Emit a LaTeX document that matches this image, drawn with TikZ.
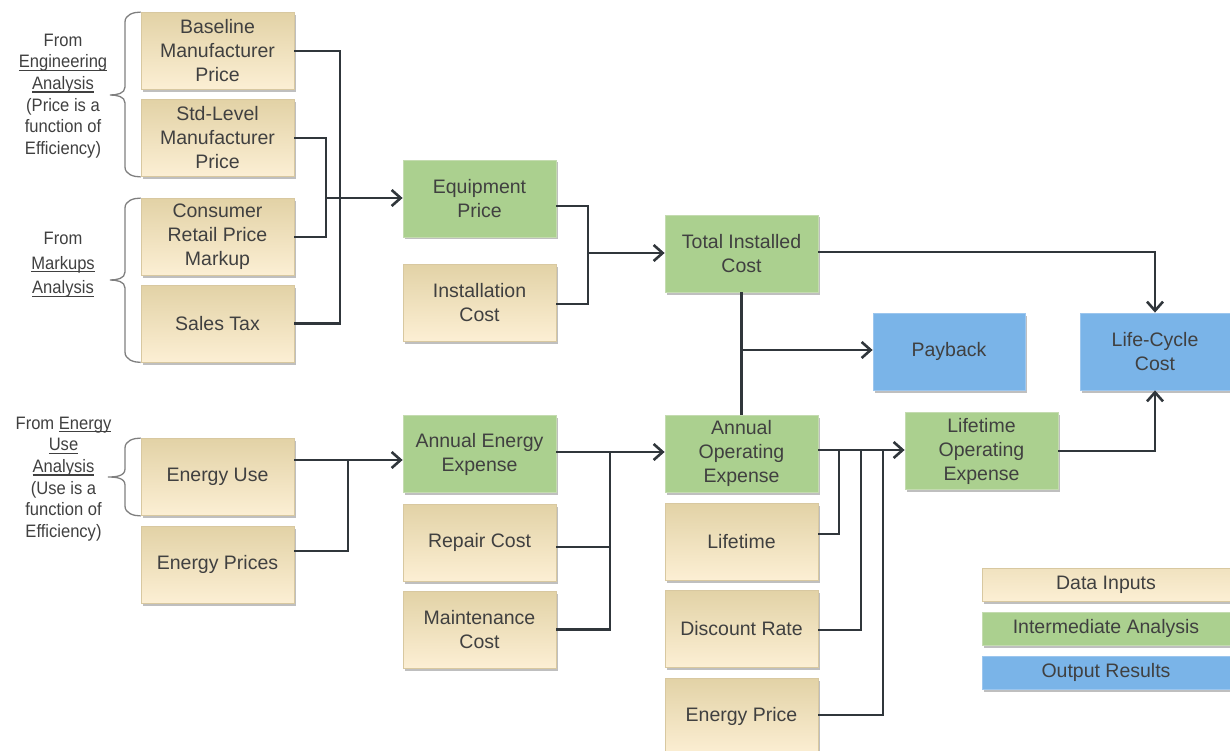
\documentclass[tikz,border=0pt]{standalone}
\usepackage{fontspec}
\setmainfont{Liberation Sans}
\newfontfamily\narrowlbl[FakeStretch=0.92]{Liberation Sans}
\usetikzlibrary{arrows.meta,shadows,calc}
\definecolor{txt}{HTML}{404040}
\definecolor{lnc}{HTML}{30363B}
\definecolor{tantop}{HTML}{E2D2A6}
\definecolor{tanbot}{HTML}{FCEFD4}
\definecolor{tanedge}{HTML}{D8C8A0}
\definecolor{grn}{HTML}{ABD08F}
\definecolor{grnedge}{HTML}{C4DBB0}
\definecolor{blu}{HTML}{7AB4E8}
\definecolor{bluedge}{HTML}{9CC6EE}
\definecolor{brcol}{HTML}{7F7F7F}
\def\myul#1{\setbox0\hbox{#1}\rlap{\rule[-3pt]{\wd0}{1.1pt}}\box0}
\begin{document}
\begin{tikzpicture}[x=1pt,y=-1pt,
 base/.style={rectangle, minimum width=153pt, minimum height=77pt, inner sep=2pt, align=center, text=txt,
   font=\fontsize{19.5}{24}\selectfont,
   drop shadow={shadow xshift=2pt,shadow yshift=-2.5pt,opacity=0.25,fill=black}},
 datain/.style={base, top color=tantop, bottom color=tanbot, draw=tanedge, line width=0.8pt},
 inter/.style={base, fill=grn, draw=grnedge, line width=0.8pt},
 outres/.style={base, fill=blu, draw=bluedge, line width=0.8pt},
 ln/.style={draw=lnc, line width=2.6pt},
 arr/.style={ln, -{Straight Barb[length=9pt,width=16pt,line width=2.6pt]}},
 lbl/.style={align=center, text=txt, font=\narrowlbl\fontsize{18}{21.6}\selectfont},
 brc/.style={draw=brcol, line width=1.3pt},
 leg/.style={minimum width=248pt, minimum height=33pt}]
\useasboundingbox (0,0) rectangle (1230,751);

% data inputs, left column
\node[datain] (bmp) at (217.5,51) {Baseline\\Manufacturer\\Price};
\node[datain] (slm) at (217.5,138) {Std-Level\\Manufacturer\\Price};
\node[datain] (crpm) at (217.5,237) {Consumer\\Retail Price\\Markup};
\node[datain] (stax) at (217.5,323.5) {Sales Tax};
\node[datain] (eu) at (217.5,477) {Energy Use};
\node[datain] (ep) at (217.5,564.5) {Energy Prices};

% middle column
\node[inter] (eqp) at (479.5,198.5) {Equipment\\Price};
\node[datain] (inst) at (479.5,302.5) {Installation\\Cost};
\node[inter] (ae) at (479.5,454) {Annual Energy\\Expense};
\node[datain] (rc) at (479.5,542.5) {Repair Cost};
\node[datain] (mc) at (479.5,629.5) {Maintenance\\Cost};

% third column
\node[inter] (tic) at (741.5,253.5) {Total Installed\\Cost};
\node[inter] (ao) at (741.5,453.5) {Annual\\Operating\\Expense};
\node[datain] (lt) at (741.5,541.5) {Lifetime};
\node[datain] (dr) at (741.5,628.5) {Discount Rate};
\node[datain] (enp) at (741.5,716.5) {Energy Price};

% right
\node[outres, minimum width=152pt] (pb) at (949,351.5) {Payback};
\node[outres, minimum width=150pt] (lcc) at (1155,351.5) {Life-Cycle\\Cost};
\node[inter] (lo) at (981.5,451) {Lifetime\\Operating\\Expense};

% legend
\node[datain, leg, top color=tantop!45!tanbot] (leg1) at (1106,584.5) {Data Inputs};
\node[inter, leg] (leg2) at (1106,628.5) {Intermediate Analysis};
\node[outres, leg] (leg3) at (1106,672.5) {Output Results};

% left labels
\node[lbl] (engl) at (63,96) {From\\\myul{Engineering}\\\myul{Analysis}\\(Price is a\\function of\\Efficiency)};
\node[lbl, font=\narrowlbl\fontsize{18}{24.5}\selectfont] (mkl) at (63,265) {From\\\myul{Markups}\\\myul{Analysis}};
\node[lbl] (eul) at (63.5,479) {From \myul{Energy}\\\myul{Use}\\\myul{Analysis}\\(Use is a\\function of\\Efficiency)};

% braces
\draw[brc] (bmp.north west) to[out=180,in=90] (125,22) -- (125,87) to[out=-90,in=0] (110,95)
  to[out=0,in=90] (125,103) -- (125,167) to[out=-90,in=180] (slm.south west);
\draw[brc] (crpm.north west) to[out=180,in=90] (125,208) -- (125,272) to[out=-90,in=0] (110,280)
  to[out=0,in=90] (125,288) -- (125,352) to[out=-90,in=180] (stax.south west);
\draw[brc] (eu.north west) to[out=180,in=90] (125,448) -- (125,469) to[out=-90,in=0] (108,477)
  to[out=0,in=90] (125,485) -- (125,506) to[out=-90,in=180] (eu.south west);

% junctions
\coordinate (j1) at (340,198);
\coordinate (j2) at (326,198);
\coordinate (j3) at (588,253);
\coordinate (j4) at (741,350);
\coordinate (j5) at (348,460);
\coordinate (j6) at (610,452);
\coordinate (j7) at (839,450);
\coordinate (j8) at (861,450);
\coordinate (j9) at (883,450);

% connectors
\draw[ln] (bmp.east) -| (j1) |- (stax.east);
\draw[ln] (slm.east) -| (j2) |- (crpm.east);
\draw[arr] (j2) -- (eqp.west |- j2);
\draw[ln] ([yshift=-7.5pt]eqp.east) -| (j3) |- ([yshift=-1.5pt]inst.east);
\draw[arr] (j3) -- (tic.west |- j3);
\draw[arr] ([yshift=1.5pt]tic.east) -| (lcc.north);
\draw[ln] (tic.south) -- (ao.north);
\draw[arr] (j4) -- (pb.west |- j4);
\draw[arr] ([yshift=17pt]eu.east) -- (ae.west |- j5);
\draw[ln] ([yshift=13.5pt]ep.east) -| (j5);
\draw[arr] (ae.east |- j6) -- (ao.west |- j6);
\draw[ln] ([yshift=-4.5pt]rc.east) -| (j6);
\draw[ln] (mc.east) -| (j6);
\draw[arr] ([yshift=3.5pt]ao.east) -- (lo.west |- j7);
\draw[ln] ([yshift=7.5pt]lt.east) -| (j7);
\draw[ln] ([yshift=-1.5pt]dr.east) -| (j8);
\draw[ln] ([yshift=1.5pt]enp.east) -| (j9);
\draw[arr] (lo.east) -| (lcc.south);
\end{tikzpicture}
\end{document}
